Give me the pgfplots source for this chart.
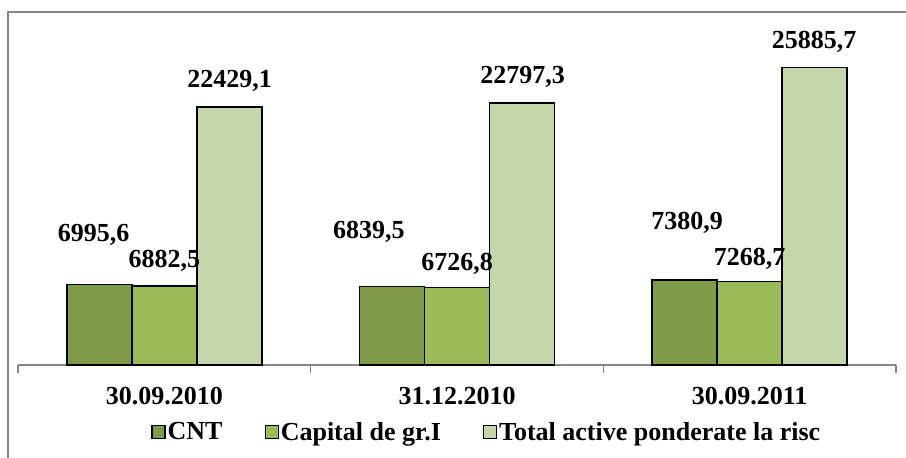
\documentclass[border=0pt]{standalone}
\usepackage{pgfplots}
\pgfplotsset{compat=1.18}
\usepackage{fontspec}
\setmainfont{Liberation Serif}
\definecolor{cDark}{HTML}{7F9A48}
\definecolor{cMid}{HTML}{9BBB59}
\definecolor{cLight}{HTML}{C4D6AA}
\definecolor{cAxis}{HTML}{868686}
\newcommand{\lbl}{\bfseries\fontsize{26}{30}\selectfont}
\begin{document}
\begin{tikzpicture}
\useasboundingbox (-18pt,-93pt) rectangle (888pt,365pt);
\draw[cAxis, line width=2pt] (-10pt,-120pt) -- (-10pt,353pt) -- (920pt,353pt);
\begin{axis}[
  at={(0,0)}, anchor=south west,
  scale only axis, width=878pt, height=345pt,
  ybar=0pt, bar width=65pt,
  xmin=-0.5, xmax=2.5, ymin=0, ymax=30000,
  axis x line*=bottom, axis y line=none,
  x axis line style={cAxis, line width=1.6pt, -},
  xtick={0,1,2}, xticklabels={30.09.2010,31.12.2010,30.09.2011},
  major tick length=0pt,
  minor xtick={-0.5,0.5,1.5,2.5}, minor tick length=8pt,
  tick align=outside, xtick pos=bottom,
  minor tick style={cAxis, line width=1.6pt},
  xticklabel style={font=\lbl, yshift=-19pt},
  legend columns=3,
  legend style={draw=none, fill=none, at={(0.534,-0.194)}, anchor=center,
    font=\lbl, /tikz/every even column/.append style={column sep=40pt},
    inner sep=0pt},
  legend image code/.code={\draw[#1, draw=black, line width=1.2pt] (0pt,-6.5pt) rectangle (13pt,6.5pt);},
  clip=false,
]
\addplot[fill=cDark, draw=black, line width=1.4pt] coordinates {(0,6995.6) (1,6839.5) (2,7380.9)};
\addplot[fill=cMid, draw=black, line width=1.4pt] coordinates {(0,6882.5) (1,6726.8) (2,7268.7)};
\addplot[fill=cLight, draw=black, line width=1.4pt] coordinates {(0,22429.1) (1,22797.3) (2,25885.7)};
\legend{CNT, Capital de gr.I, Total active ponderate la risc}
\node[font=\lbl, yshift=50pt] at (axis cs:-0.242,6995.6) {6995,6};
\node[font=\lbl, yshift=25pt] at (axis cs:0,6882.5) {6882,5};
\node[font=\lbl, yshift=26pt] at (axis cs:0.2227,22429.1) {22429,1};
\node[font=\lbl, yshift=54pt] at (axis cs:0.699,6839.5) {6839,5};
\node[font=\lbl, yshift=24pt] at (axis cs:1,6726.8) {6726,8};
\node[font=\lbl, yshift=26pt] at (axis cs:1.2238,22797.3) {22797,3};
\node[font=\lbl, yshift=57pt] at (axis cs:1.786,7380.9) {7380,9};
\node[font=\lbl, yshift=23pt] at (axis cs:2,7268.7) {7268,7};
\node[font=\lbl, yshift=25pt] at (axis cs:2.22,25885.7) {25885,7};
\end{axis}
\end{tikzpicture}
\end{document}
